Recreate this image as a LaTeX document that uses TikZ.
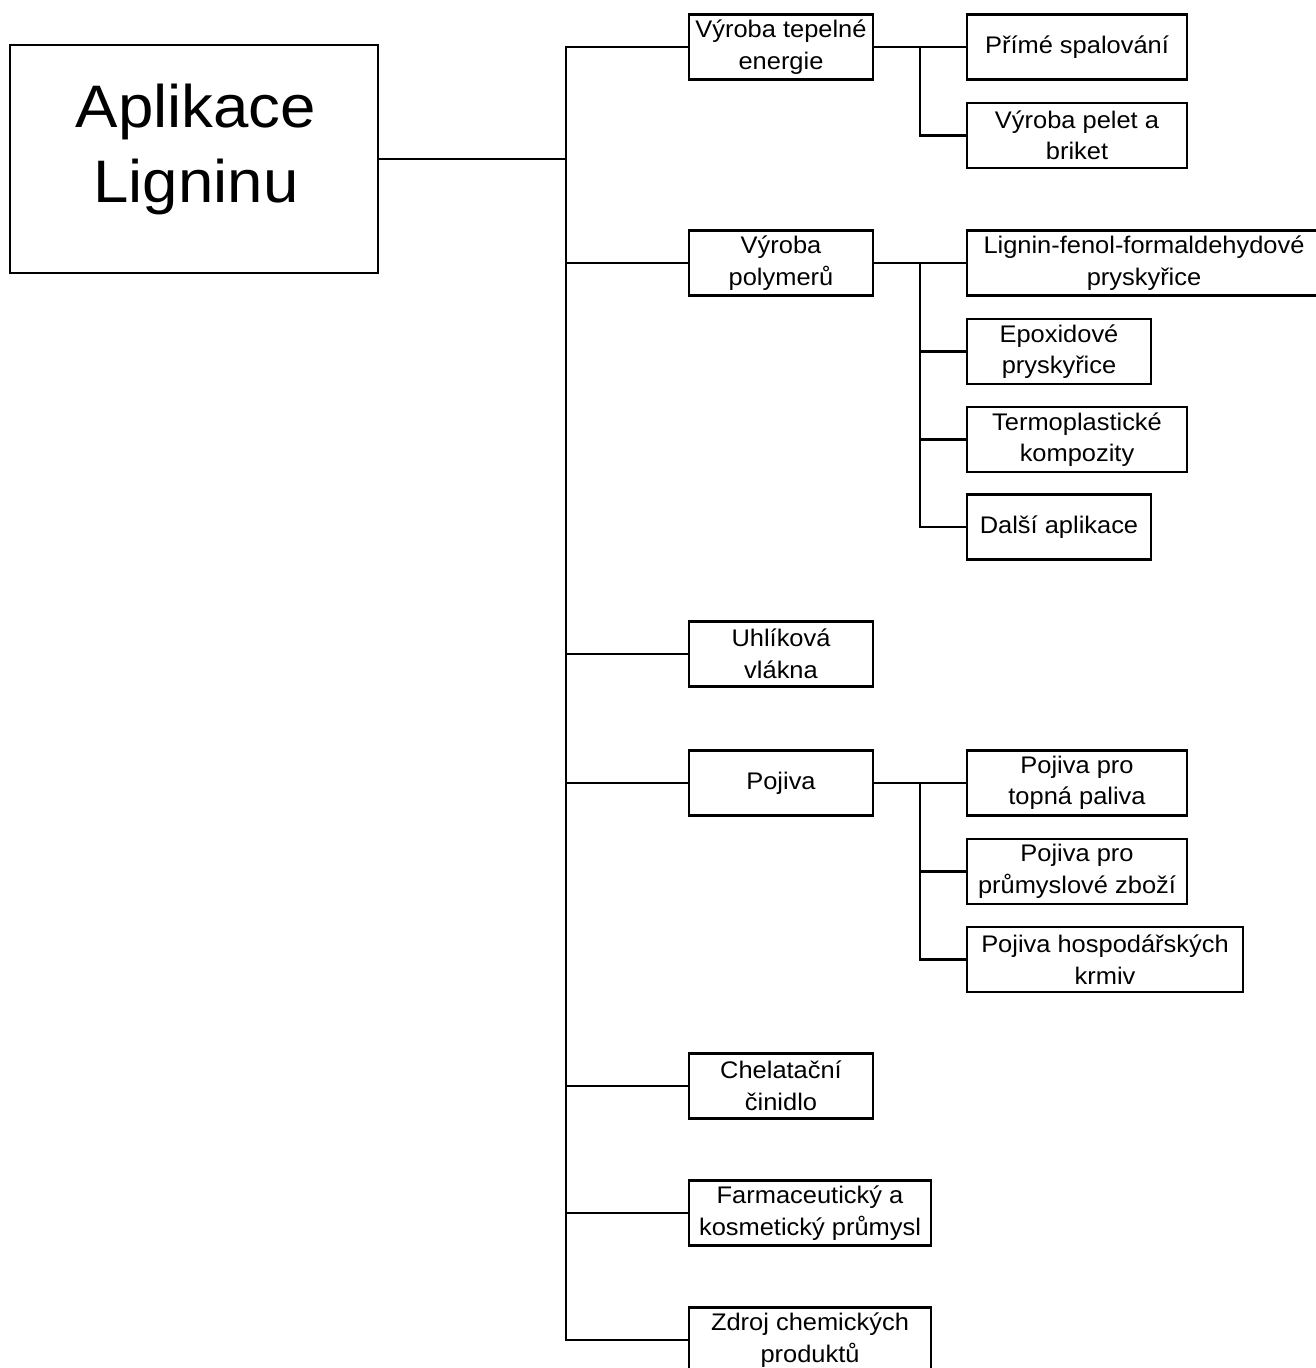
\documentclass[tikz,border=0pt]{standalone}
\usepackage{fontspec}
\setmainfont{Liberation Sans}[FakeStretch=1.06]
\begin{document}
\begin{tikzpicture}[x=1pt,y=-1pt,
  every path/.style={line width=2.2pt},
  box/.style={draw, line width=2.2pt, rectangle, inner sep=0pt, align=center,
    minimum height=65pt, font=\fontsize{24}{31.5}\selectfont},
  lone/.style={box, minimum width=184pt},
  lwide/.style={box, minimum width=242pt},
  ltwo/.style={box, minimum width=220pt},
  lshort/.style={box, minimum width=184pt},
  roottxt/.style={align=center, inner sep=0pt, font=\fontsize{60}{75}\selectfont}]
\path[use as bounding box, fill=white] (0,0) rectangle (1315,1368);

% root
\node[draw, line width=2.2pt, minimum width=368pt, minimum height=228pt, inner sep=0pt] (root) at (194,159) {};
\node[roottxt] (roottext) at (196,149) {Aplikace\\Ligninu};

\coordinate (tr) at (566,0);
\coordinate (br) at (920,0);

% level 1
\node[lone] (a1) at (781,47) {Výroba tepelné\\energie};
\node[lone] (a2) at (781,263) {Výroba\\polymerů};
\node[lone] (a3) at (781,654) {Uhlíková\\vlákna};
\node[lone] (a4) at (781,783) {Pojiva};
\node[lone] (a5) at (781,1086) {Chelatační\\činidlo};
\node[lwide] (a6) at (810,1213) {Farmaceutický a\\kosmetický průmysl};
\node[lwide] (a7) at (810,1340) {Zdroj chemických\\produktů};

% level 2
\node[ltwo] (b1) at (1077,47) {Přímé spalování};
\node[ltwo] (b2) at (1077,135.5) {Výroba pelet a\\briket};
\node[box, minimum width=354pt] (b3) at (1144,263) {Lignin-fenol-formaldehydové\\pryskyřice};
\node[lshort] (b4) at (1059,351.5) {Epoxidové\\pryskyřice};
\node[ltwo] (b5) at (1077,439.5) {Termoplastické\\kompozity};
\node[lshort] (b6) at (1059,527) {Další aplikace};
\node[ltwo] (b7) at (1077,783) {Pojiva pro\\topná paliva};
\node[ltwo] (b8) at (1077,871.5) {Pojiva pro\\průmyslové zboží};
\node[box, minimum width=276pt] (b9) at (1105,959.5) {Pojiva hospodářských\\krmiv};

% trunk
\draw (root.east) -- (root.east -| tr);
\draw (a1.west) -| (a7.west -| tr) -- (a7.west);
\foreach \n in {a2,a3,a4,a5,a6} {\draw (\n.west -| tr) -- (\n.west);}

% branches
\draw (a1.east) -- (b1.west);
\draw (a1.east -| br) |- (b2.west);
\draw (a2.east) -- (b3.west);
\draw (a2.east -| br) |- (b6.west);
\draw (b4.west -| br) -- (b4.west);
\draw (b5.west -| br) -- (b5.west);
\draw (a4.east) -- (b7.west);
\draw (a4.east -| br) |- (b9.west);
\draw (b8.west -| br) -- (b8.west);
\end{tikzpicture}
\end{document}
